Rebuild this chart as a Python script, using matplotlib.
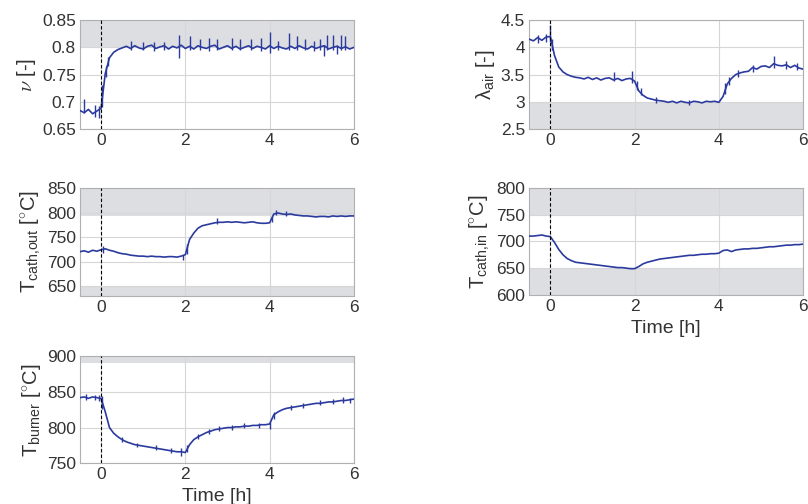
import numpy as np
import matplotlib
matplotlib.use("Agg")
import matplotlib.pyplot as plt

plt.rcParams['font.family'] = ['Liberation Sans', 'DejaVu Sans']
plt.rcParams['mathtext.fontset'] = 'custom'
plt.rcParams['mathtext.rm'] = 'Liberation Sans'
plt.rcParams['mathtext.it'] = 'Liberation Sans:italic'

# sample times [h], 0.1 h steps
time_h = [-0.5, -0.4, -0.3, -0.2, -0.1, 0.0, 0.1, 0.2, 0.3, 0.4, 0.5,
          0.6, 0.7, 0.8, 0.9, 1.0, 1.1, 1.2, 1.3, 1.4, 1.5,
          1.6, 1.7, 1.8, 1.9, 2.0, 2.1, 2.2, 2.3, 2.4, 2.5,
          2.6, 2.7, 2.8, 2.9, 3.0, 3.1, 3.2, 3.3, 3.4, 3.5,
          3.6, 3.7, 3.8, 3.9, 4.0, 4.1, 4.2, 4.3, 4.4, 4.5,
          4.6, 4.7, 4.8, 4.9, 5.0, 5.1, 5.2, 5.3, 5.4, 5.5,
          5.6, 5.7, 5.8, 5.9, 6.0]

nu = [0.684, 0.680, 0.686, 0.678, 0.683, 0.688, 0.752, 0.781, 0.791, 0.796, 0.799,
      0.802, 0.798, 0.803, 0.799, 0.797, 0.802, 0.804, 0.798, 0.801, 0.803,
      0.797, 0.802, 0.799, 0.804, 0.798, 0.802, 0.797, 0.803, 0.800, 0.798,
      0.802, 0.804, 0.797, 0.800, 0.803, 0.798, 0.802, 0.797, 0.800, 0.803,
      0.798, 0.802, 0.800, 0.797, 0.803, 0.798, 0.802, 0.799, 0.797, 0.802,
      0.798, 0.803, 0.799, 0.797, 0.802, 0.798, 0.801, 0.803, 0.797, 0.800,
      0.802, 0.798, 0.801, 0.797, 0.800]
# short excursions (time, low, high)
nu_spikes = [(-0.4, 0.680, 0.705), (-0.15, 0.672, 0.695), (-0.05, 0.670, 0.692),
             (0.02, 0.690, 0.730), (0.12, 0.745, 0.765), (0.17, 0.765, 0.782),
             (0.7, 0.795, 0.812), (1.0, 0.795, 0.810), (1.25, 0.794, 0.809),
             (1.5, 0.795, 0.810), (1.85, 0.780, 0.823), (2.1, 0.795, 0.820),
             (2.35, 0.795, 0.816), (2.55, 0.794, 0.818), (2.75, 0.795, 0.815),
             (3.1, 0.795, 0.818), (3.3, 0.795, 0.815), (3.55, 0.795, 0.815),
             (3.8, 0.794, 0.817), (4.0, 0.790, 0.828), (4.2, 0.795, 0.812),
             (4.45, 0.795, 0.826), (4.65, 0.796, 0.820), (4.85, 0.795, 0.815),
             (5.05, 0.794, 0.812), (5.2, 0.795, 0.815), (5.3, 0.784, 0.805),
             (5.35, 0.796, 0.822), (5.5, 0.795, 0.822), (5.6, 0.788, 0.805),
             (5.7, 0.795, 0.822), (5.8, 0.796, 0.820)]

lam_air = [4.15, 4.12, 4.18, 4.13, 4.19, 4.20, 3.85, 3.64, 3.55, 3.50, 3.47,
           3.45, 3.44, 3.42, 3.45, 3.41, 3.44, 3.40, 3.43, 3.44, 3.40,
           3.43, 3.39, 3.42, 3.43, 3.38, 3.20, 3.12, 3.07, 3.05, 3.03,
           3.02, 3.01, 2.99, 3.01, 2.98, 3.01, 2.99, 2.98, 3.01, 3.00,
           2.98, 3.01, 3.00, 3.01, 2.99, 3.10, 3.33, 3.43, 3.50, 3.53,
           3.55, 3.56, 3.63, 3.60, 3.65, 3.66, 3.63, 3.70, 3.67, 3.66,
           3.68, 3.63, 3.67, 3.62, 3.60]
lam_spikes = [(-0.3, 4.08, 4.22), (-0.1, 4.10, 4.25), (0.0, 4.10, 4.42),
              (0.05, 3.95, 4.15), (1.5, 3.38, 3.55), (1.95, 3.35, 3.57),
              (2.05, 3.22, 3.38), (2.15, 3.13, 3.25), (2.5, 2.98, 3.08),
              (3.3, 2.95, 3.04), (4.15, 3.15, 3.35), (4.25, 3.30, 3.45),
              (4.45, 3.45, 3.58), (4.8, 3.55, 3.68), (5.3, 3.62, 3.85),
              (5.6, 3.60, 3.75), (5.85, 3.58, 3.72)]

t_cath_out = [720, 722, 719, 723, 721, 724, 726, 723, 721, 718, 716,
              715, 713, 712, 711, 711, 710, 711, 710, 710, 709,
              710, 710, 709, 711, 714, 745, 758, 768, 773, 775,
              777, 779, 780, 780, 781, 780, 781, 780, 779, 780,
              781, 779, 778, 778, 779, 797, 799, 797, 796, 797,
              795, 794, 793, 793, 792, 791, 792, 792, 791, 793,
              792, 793, 792, 793, 793]
cath_out_spikes = [(0.05, 718, 731), (1.95, 703, 714), (2.05, 715, 735),
                   (2.75, 776, 788), (4.05, 780, 793), (4.15, 795, 806),
                   (4.4, 792, 803)]

t_cath_in = [710, 710, 711, 712, 710, 709, 698, 685, 675, 668, 664,
             661, 660, 659, 658, 657, 656, 655, 654, 653, 652,
             651, 651, 650, 649, 649, 653, 658, 661, 663, 665,
             667, 668, 669, 670, 671, 672, 673, 674, 674, 675,
             676, 676, 677, 677, 678, 683, 684, 681, 684, 685,
             686, 686, 687, 687, 688, 689, 690, 690, 691, 692,
             693, 693, 694, 694, 695]

t_burner = [842, 843, 841, 843, 842, 841, 822, 800, 792, 787, 783,
            780, 778, 776, 775, 774, 773, 772, 771, 770, 769,
            768, 767, 766, 766, 765, 776, 783, 787, 790, 793,
            795, 797, 798, 799, 800, 800, 801, 801, 802, 802,
            803, 803, 804, 804, 805, 818, 822, 825, 827, 828,
            829, 830, 831, 832, 833, 834, 834, 835, 836, 836,
            837, 838, 838, 839, 840]
burner_spikes = [(-0.35, 839, 847), (-0.15, 838, 846), (-0.05, 837, 846),
                 (0.02, 826, 845), (0.5, 780, 787), (0.85, 773, 779),
                 (1.3, 768, 775), (1.65, 764, 771), (1.9, 760, 772),
                 (2.05, 765, 775), (2.3, 784, 791), (2.55, 791, 798),
                 (2.8, 795, 802), (3.1, 797, 804), (3.4, 799, 806),
                 (3.75, 800, 807), (4.0, 798, 808), (4.1, 812, 822),
                 (4.5, 825, 832), (4.8, 828, 835), (5.2, 831, 838),
                 (5.5, 833, 840), (5.75, 834, 843), (5.9, 835, 842)]

line_col = '#2b3a9e'
band_col = '#dcdee2'
grid_col = '#d6d6d6'
text_col = '#333333'

fig = plt.figure(figsize=(8.08, 5.04), dpi=100)


def panel(rect, y, spikes, ylim, yticks, bands, ylabel, xlabel=None, math_ff='custom'):
    ax = fig.add_axes(rect)
    for lo, hi in bands:
        ax.axhspan(lo, hi, color=band_col, lw=0, zorder=0)
    ax.plot(time_h, y, color=line_col, lw=1.2, zorder=3)
    if spikes:
        st, slo, shi = zip(*spikes)
        ax.vlines(st, slo, shi, color=line_col, lw=1.0, zorder=3)
    ax.axvline(0, color='black', ls=(0, (3, 2)), lw=0.8, zorder=4)
    ax.set_xlim(-0.5, 6)
    ax.set_ylim(*ylim)
    ax.set_xticks([0, 2, 4, 6])
    ax.set_yticks(yticks)
    ax.set_yticklabels([f'{v:g}' for v in yticks])
    ax.grid(True, color=grid_col, lw=0.8, zorder=1)
    ax.set_axisbelow(True)
    ax.tick_params(length=0, labelsize=12.5, colors=text_col, pad=3)
    for s in ax.spines.values():
        s.set_color('#b0b0b0')
        s.set_linewidth(0.8)
    ax.set_ylabel(ylabel, fontsize=14.5, color=text_col, math_fontfamily=math_ff, labelpad=3)
    if xlabel:
        ax.set_xlabel(xlabel, fontsize=14, color=text_col, labelpad=4)
    return ax


panel([0.099, 0.744, 0.339, 0.216], nu, nu_spikes, (0.65, 0.85),
      [0.65, 0.7, 0.75, 0.8, 0.85], [(0.8, 0.85)],
      r'$\nu$ [-]', math_ff='cm')
panel([0.655, 0.744, 0.339, 0.216], lam_air, lam_spikes, (2.5, 4.5),
      [2.5, 3, 3.5, 4, 4.5], [(2.5, 3.0)],
      r'λ$_{\mathrm{air}}$ [-]')
panel([0.099, 0.413, 0.339, 0.214], t_cath_out, cath_out_spikes, (630, 850),
      [650, 700, 750, 800, 850], [(792, 850), (630, 650)],
      r'T$_{\mathrm{cath{,}out}}$ [$^{\circ}$C]')
panel([0.655, 0.415, 0.339, 0.212], t_cath_in, None, (600, 800),
      [600, 650, 700, 750, 800], [(750, 800), (600, 650)],
      r'T$_{\mathrm{cath{,}in}}$ [$^{\circ}$C]', xlabel='Time [h]')
panel([0.099, 0.081, 0.339, 0.212], t_burner, burner_spikes, (750, 900),
      [750, 800, 850, 900], [(890, 900)],
      r'T$_{\mathrm{burner}}$ [$^{\circ}$C]', xlabel='Time [h]')

fig.savefig('out.png', dpi=100)
